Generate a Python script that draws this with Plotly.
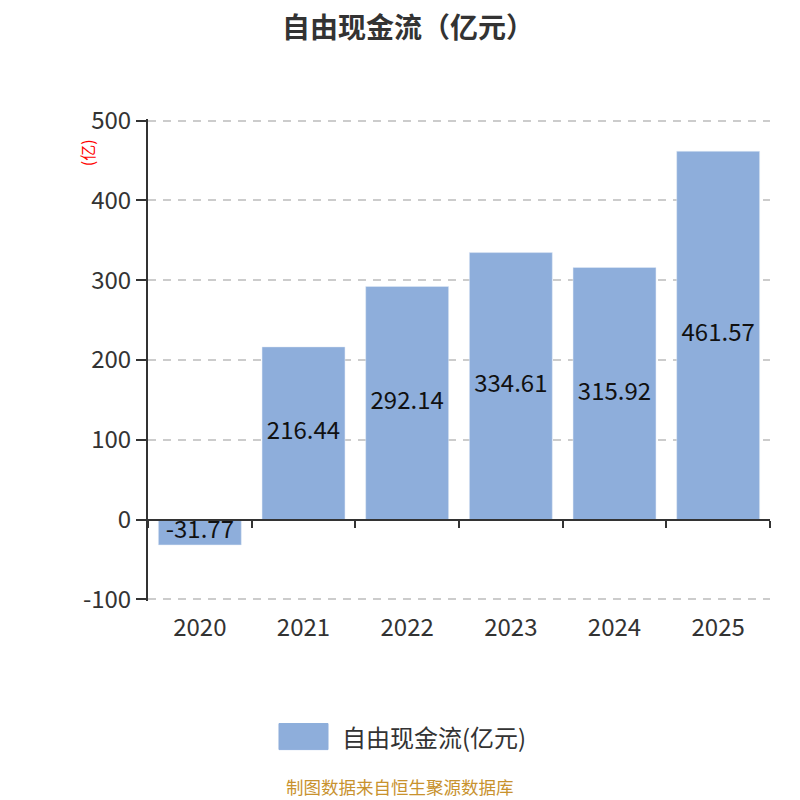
import plotly.graph_objects as go

years = ["2020", "2021", "2022", "2023", "2024", "2025"]
fcf = [-31.77, 216.44, 292.14, 334.61, 315.92, 461.57]
labels = ["-31.77", "216.44", "292.14", "334.61", "315.92", "461.57"]
y_ticks = [-100, 0, 100, 200, 300, 400, 500]
y_tick_text = ["-100", "0", "100", "200", "300", "400", "500"]

font = "Noto Sans CJK SC, Noto Sans, sans-serif"
bar_color = "#8eaedb"

fig = go.Figure()
fig.add_bar(x=years, y=fcf, name="自由现金流(亿元)", marker=dict(color=bar_color),
            showlegend=False, hoverinfo="x+y")
# value labels sit in the middle of each bar
fig.add_scatter(x=years, y=[v / 2 for v in fcf], mode="text", text=labels,
                textfont=dict(size=24, color="#111111"), showlegend=False,
                hoverinfo="skip", cliponaxis=False)
# invisible trace so the zero-line axis with boundary ticks gets drawn
fig.add_scatter(x=years, y=[0] * len(years), xaxis="x2", mode="markers",
                marker=dict(opacity=0), showlegend=False, hoverinfo="skip")

y_lo, y_hi = -102, 502

fig.update_layout(
    width=800, height=800,
    margin=dict(l=140, r=38, t=111, b=207),
    plot_bgcolor="white", paper_bgcolor="white",
    font=dict(family=font, color="#333333"),
    title=dict(text="<b>自由现金流（亿元）</b>", x=0.5, xanchor="center", y=0.975, yanchor="middle",
               font=dict(size=28, color="#333333")),
    bargap=0.2,
    showlegend=False,
    xaxis=dict(type="category", showline=False, ticks="", showgrid=False,
               tickfont=dict(size=24, color="#333333"), ticklabelstandoff=10),
    xaxis2=dict(type="category", matches="x", overlaying="x", anchor="free",
                position=(0 - y_lo) / (y_hi - y_lo),
                showline=True, linecolor="#333333", linewidth=2, ticks="outside",
                tickson="boundaries", ticklen=7, tickcolor="#333333", tickwidth=2,
                showticklabels=False, showgrid=False),
    yaxis=dict(range=[y_lo, y_hi], tickvals=y_ticks, ticktext=y_tick_text,
               showline=True, linecolor="#333333", linewidth=2,
               ticks="outside", ticklen=10, tickcolor="#333333", tickwidth=2,
               showgrid=True, gridcolor="#cccccc", griddash="8px,7px", gridwidth=1.5,
               zeroline=False, tickfont=dict(size=24, color="#333333")),
)

# legend drawn by hand to get the wide rounded swatch
fig.add_shape(type="rect", xref="paper", yref="paper", x0=0.2106, x1=0.2894, y0=-0.3083, y1=-0.2542,
              fillcolor=bar_color, line=dict(color=bar_color, width=1))
fig.add_annotation(text="自由现金流(亿元)", xref="paper", yref="paper", x=0.3087, y=-0.2813,
                   xanchor="left", yanchor="middle", showarrow=False,
                   font=dict(size=24, color="#333333"))

fig.add_annotation(text="(亿)", xref="paper", yref="paper", x=(87 - 148) / 622, y=(600 - 154) / 480,
                   xanchor="center", yanchor="middle",
                   textangle=-90, showarrow=False, font=dict(size=16, color="red"))
fig.add_annotation(text="制图数据来自恒生聚源数据库", xref="paper", yref="paper", x=(400 - 148) / 622,
                   y=(600 - 785) / 480, xanchor="center", yanchor="middle", showarrow=False,
                   font=dict(size=17.5, color="#c8922e"))

fig.write_html("out.html")
